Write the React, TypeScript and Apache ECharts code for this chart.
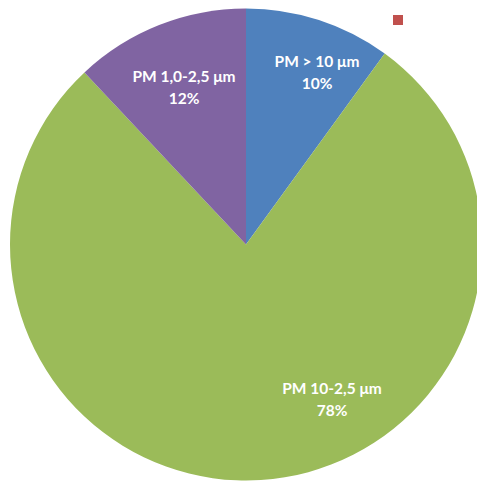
import React, { useEffect, useRef } from "react";
import * as echarts from "echarts";

const categories = ["PM > 10 μm", "PM 10-2,5 μm", "PM 1,0-2,5 μm", "PM < 1,0 μm"];
const values = [10, 78, 12, 0];
const colors = ["#4F81BD", "#9BBB59", "#8064A2", "#C0504D"];
const legendItems = ["PM < 1,0 μm"];

// label centre positions (layout only)
const labelCentres: [number, number][] = [
  [317, 72],
  [332, 399],
  [184, 87],
  [0, 0],
];

export default function App() {
  const ref = useRef<HTMLDivElement>(null);
  useEffect(() => {
    if (!ref.current) return;
    const chart = echarts.init(ref.current, null, { renderer: "svg" });
    chart.setOption({
      animation: false,
      backgroundColor: "#ffffff",
      legend: {
        data: legendItems,
        left: 388,
        top: 10,
        itemWidth: 10,
        itemHeight: 10,
        icon: "rect",
        formatter: () => "",
        selectedMode: false,
      },
      series: [
        {
          type: "pie",
          center: [246, 244.5],
          radius: 236,
          startAngle: 90,
          clockwise: true,
          silent: true,
          data: categories.map((name, i) => ({
            name,
            value: values[i],
            itemStyle: { color: colors[i] },
            label: { show: values[i] > 0 },
          })),
          label: {
            show: true,
            position: "inside",
            formatter: "{b}\n{d}%",
            color: "#ffffff",
            fontFamily: "Lato, 'Open Sans', sans-serif",
            fontWeight: "bold",
            fontSize: 15.5,
            lineHeight: 22,
            align: "center",
            verticalAlign: "middle",
          },
          labelLine: { show: false },
          labelLayout: (params: any) => {
            const p = labelCentres[params.dataIndex];
            return { x: p[0], y: p[1], align: "center", verticalAlign: "middle" };
          },
        },
      ],
    });
    return () => chart.dispose();
  }, []);
  return (
    <div
      ref={ref}
      style={{ position: "fixed", left: 0, top: 0, width: 477, height: 481 }}
    />
  );
}
